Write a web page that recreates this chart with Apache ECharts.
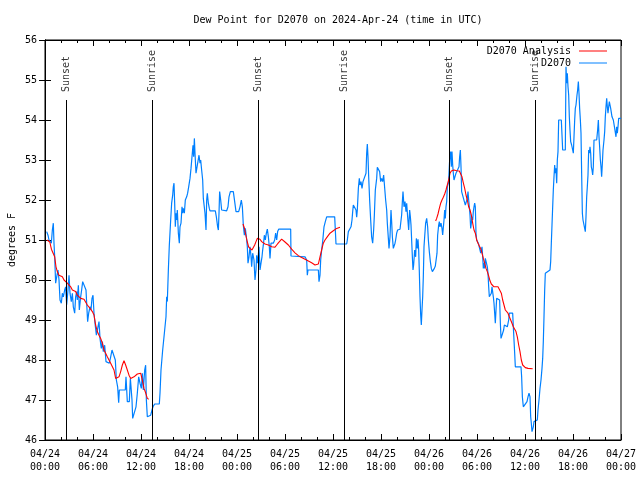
<!DOCTYPE html>
<html>
<head>
<meta charset="utf-8">
<script src="https://cdn.jsdelivr.net/npm/echarts@6/dist/echarts.min.js"></script>
<style>html,body{margin:0;padding:0;background:#fff}#c{width:640px;height:480px}</style>
</head>
<body>
<div id="c"></div>
<script>
// x values are hours since 2024-04-24 00:00 UTC
const titleText = 'Dew Point for D2070 on 2024-Apr-24 (time in UTC)';
const yAxisName = 'degrees F';
const seriesNames = ['D2070 Analysis', 'D2070'];
const startDay = 24;

const obsPoints = [
[0.21,51.21],[0.375,51.12],[0.5,51.0],[0.625,51.04],[0.79,50.92],[0.92,51.25],[1.04,51.42],[1.125,50.92],[1.21,50.58],[1.33,49.92],[1.46,50.08],[1.625,50.25],[1.75,50.0],[1.875,49.5],[2.04,49.42],[2.17,49.67],[2.29,49.58],[2.46,49.75],[2.58,49.83],[2.71,49.38],[2.875,49.75],[3.0,50.12],[3.125,49.67],[3.29,49.46],[3.42,49.67],[3.54,49.33],[3.71,49.17],[3.83,49.58],[3.96,49.71],[4.04,49.5],[4.17,49.87],[4.29,49.25],[4.46,49.58],[4.58,49.75],[4.71,49.96],[4.96,49.96],[5.125,49.75],[5.21,49.42],[5.33,48.96],[5.46,49.17],[5.625,49.33],[5.75,49.25],[5.875,49.54],[6.0,49.62],[6.125,49.17],[6.25,48.92],[6.42,48.62],[6.67,48.62],[6.75,48.96],[6.875,48.54],[7.04,48.29],[7.17,48.46],[7.29,48.21],[7.46,48.37],[7.625,47.96],[7.79,47.92],[8.04,47.92],[8.21,48.08],[8.375,48.25],[8.625,48.25],[8.79,48.0],[8.92,47.5],[9.08,47.33],[9.21,46.93],[9.29,47.25],[10.04,47.25],[10.125,47.58],[10.29,46.96],[10.54,46.96],[10.67,47.54],[10.79,47.54],[10.875,47.0],[10.96,46.54],[11.21,46.54],[11.375,46.83],[11.54,47.17],[11.71,47.58],[11.875,47.42],[12.04,47.29],[12.17,47.67],[12.29,47.25],[12.46,47.75],[12.58,47.87],[12.67,47.0],[12.79,46.58],[12.96,46.54],[13.21,46.62],[13.375,46.75],[13.5,46.83],[13.71,46.9],
[14.29,46.9],[14.375,47.17],[14.5,47.75],[14.71,48.25],[14.96,48.75],[15.125,49.08],[15.21,49.58],[15.29,49.46],[15.42,50.25],[15.54,50.87],[15.71,51.5],[15.83,51.92],[15.96,52.12],[16.04,52.33],[16.125,52.42],[16.21,51.92],[16.29,51.33],[16.375,51.67],[16.46,51.5],[16.54,51.75],[16.67,51.17],[16.79,50.92],[16.875,51.33],[17.0,51.42],[17.125,51.83],[17.21,51.67],[17.29,51.79],[17.42,51.67],[17.54,52.0],[17.71,52.08],[17.83,52.17],[17.96,52.33],[18.125,52.54],[18.25,52.79],[18.375,53.08],[18.5,53.37],[18.58,53.08],[18.67,53.54],[18.75,53.17],[18.875,52.67],[19.125,52.67],[19.25,53.12],[19.375,52.92],[19.46,53.0],[19.58,52.75],[19.71,52.5],[19.79,52.04],[20.0,51.67],[20.125,51.25],[20.21,52.0],[20.29,52.17],[20.42,51.92],[20.54,51.79],[20.625,51.73],[21.29,51.73],[21.42,51.58],[21.58,51.33],[21.67,51.25],[21.75,51.67],[21.83,52.21],[21.96,52.0],[22.08,51.75],[22.71,51.73],[22.875,51.83],[23.0,52.08],[23.17,52.21],[23.54,52.21],[23.71,51.96],[23.875,51.71],[24.04,51.67],[24.21,51.71],[24.375,51.83],[24.54,52.0],[24.67,51.83],[24.79,51.37],[24.92,51.12],[25.04,51.29],[25.17,51.08],[25.29,50.83],[25.375,50.42],[25.5,50.58],
[25.625,50.83],[25.75,50.6],[25.83,50.33],[25.96,50.67],[26.125,50.5],[26.25,50.0],[26.375,50.25],[26.46,50.62],[26.58,50.42],[26.75,50.83],[26.875,50.25],[27.0,50.42],[27.125,50.58],[27.21,50.75],[27.29,50.87],[27.42,51.12],[27.54,51.0],[27.67,51.17],[27.79,51.27],[27.92,51.08],[28.04,50.83],[28.125,50.54],[28.25,50.92],[28.54,50.92],[28.71,51.0],[28.83,51.17],[28.96,51.0],[29.08,51.21],[29.21,51.27],[30.71,51.27],[30.75,50.6],[32.5,50.58],[32.71,50.5],[32.79,50.12],[32.875,50.25],[34.17,50.25],[34.25,49.96],[34.375,50.12],[34.46,50.5],[34.58,50.75],[34.71,50.96],[34.875,51.33],[35.04,51.46],[35.21,51.58],[36.21,51.58],[36.29,51.25],[36.375,50.9],[37.71,50.9],
[37.79,51.0],[37.92,51.21],[38.125,51.25],[38.25,51.33],[38.375,51.5],[38.46,51.71],[38.54,51.875],[38.75,51.875],[38.875,51.75],[38.96,51.57],[39.04,51.75],[39.17,52.29],[39.29,52.54],[39.375,52.375],[39.5,52.46],[39.625,52.29],[39.75,52.46],[39.875,52.5],[40.0,52.43],[40.125,52.67],[40.21,53.17],[40.29,53.4],[40.375,53.08],[40.46,52.58],[40.58,52.0],[40.71,51.5],[40.83,51.08],[40.96,50.92],[41.08,51.25],[41.17,51.625],[41.29,52.25],[41.46,52.54],[41.54,52.82],[41.71,52.82],[41.83,52.71],[41.96,52.46],[42.08,52.54],[42.21,52.46],[42.33,52.625],[42.46,52.58],[42.58,52.0],[42.71,51.75],[42.79,51.42],[42.92,51.04],[43.0,50.79],[43.125,51.08],[43.25,51.75],[43.33,51.46],[43.42,51.08],[43.54,50.79],[43.75,50.92],[43.83,51.0],[43.96,51.17],[44.08,51.25],[44.375,51.27],[44.5,51.25],[44.58,51.625],[44.67,51.96],[44.75,52.21],[44.875,51.83],[45.0,51.96],[45.125,51.71],[45.21,51.92],[45.33,51.58],[45.46,51.25],[45.58,51.75],[45.67,51.58],[45.75,51.375],[45.83,51.33],[45.92,50.58],[46.0,50.25],[46.08,50.375],[46.21,50.75],[46.33,50.58],[46.42,51.04],[46.54,50.79],[46.625,51.02],[46.71,50.75],[46.79,50.21],[46.875,49.58],[46.96,49.125],[47.04,48.875],[47.125,49.25],[47.21,49.58],[47.29,50.08],[47.375,50.83],[47.46,51.08],[47.58,51.42],[47.71,51.54],[47.83,51.33],[47.92,51.0],[48.04,50.71],[48.17,50.46],[48.29,50.29],[48.42,50.21],[48.54,50.18],[48.67,50.29],[48.79,50.35],[48.92,50.375],[49.0,50.67],[49.08,51.12],[49.21,51.375],[49.29,51.46],[49.375,51.33],
[49.5,51.42],[49.625,51.29],[49.71,51.125],[49.79,51.08],[49.875,51.5],[49.96,51.75],[50.04,51.54],[50.125,51.83],[50.21,51.96],[50.29,52.33],[50.42,52.42],[50.5,52.67],[50.58,53.0],[50.71,53.21],[50.79,52.83],[50.875,53.21],[50.96,52.875],[51.04,52.67],[51.125,52.5],[51.29,52.5],[51.375,52.67],[51.46,52.71],[51.625,52.71],[51.75,52.83],[51.83,53.08],[51.92,53.25],[52.0,52.83],[52.08,52.21],[52.33,52.17],[52.42,51.96],[52.54,51.875],[52.71,51.92],[52.79,52.04],[52.875,52.21],[52.96,52.0],[53.04,51.83],[53.125,51.625],[53.21,51.29],[53.29,51.42],[53.375,51.58],[53.46,51.5],[53.54,51.71],[53.625,51.83],[53.71,51.92],[53.79,51.83],[53.875,51.17],[53.96,51.0],[54.17,50.92],[54.375,50.75],[54.46,50.67],[54.625,50.83],[54.71,50.58],[54.79,50.29],[54.875,50.42],[54.96,50.29],[55.04,50.54],[55.21,50.54],[55.29,50.33],[55.375,50.17],[55.46,49.83],[55.54,49.58],[55.67,49.58],[55.79,49.67],[55.875,49.83],[55.96,49.83],[56.04,49.58],[56.125,49.42],[56.21,49.17],[56.29,48.92],[56.375,49.25],[56.46,49.54],[56.83,49.5],[56.92,48.92],[57.0,48.54],[57.25,48.54],[57.33,48.75],[57.42,48.875],[57.79,48.83],[57.96,49.0],[58.04,49.17],[58.46,49.17],[58.54,48.83],[58.625,48.5],[58.71,48.17],[58.79,47.83],[59.5,47.83],[59.58,47.58],[59.67,47.08],[59.79,46.83],[60.25,46.96],[60.375,47.08],[60.5,47.17],[60.625,47.08],[60.71,46.58],[60.79,46.42],[60.875,46.21],[60.96,46.17],[61.04,46.33],[61.125,46.46],[61.21,46.5],[61.54,46.5],[61.625,46.75],
[61.75,47.0],[61.875,47.29],[62.0,47.5],[62.125,47.79],[62.21,48.04],[62.29,48.46],[62.375,49.08],[62.46,49.75],[62.54,50.17],[63.125,50.25],[63.21,50.46],[63.29,50.92],[63.375,51.375],[63.46,51.83],[63.54,52.25],[63.625,52.58],[63.71,52.875],[63.79,52.67],[63.875,52.79],[63.96,52.42],[64.04,53.0],[64.125,53.21],[64.21,54.0],[64.54,54.0],[64.625,53.625],[64.71,53.25],[65.04,53.25],[65.125,55.33],[65.21,54.92],[65.29,55.17],[65.375,54.83],[65.46,54.625],[65.54,54.08],[65.625,53.75],[65.71,53.46],[65.83,53.375],[65.96,53.25],[66.04,53.17],[66.125,53.58],[66.21,54.0],[66.29,54.29],[66.375,54.375],[66.5,54.625],[66.58,54.75],[66.67,54.96],[66.75,54.67],[66.83,54.29],[66.92,54.0],[67.0,53.67],[67.08,52.67],[67.17,51.67],[67.25,51.5],[67.375,51.54],[67.46,51.46],[67.54,51.21],[67.625,51.58],[67.71,52.08],[67.79,52.33],[67.875,52.625],[67.96,53.25],[68.04,53.17],[68.125,53.33],[68.21,53.17],[68.29,52.83],[68.375,52.75],[68.46,52.625],[68.54,52.83],[68.625,53.5],[68.96,53.5],[69.08,53.75],[69.17,54.0],[69.25,53.58],[69.33,53.33],[69.42,53.0],[69.5,52.83],[69.58,52.58],[69.67,52.92],[69.75,53.25],[69.875,53.5],[69.96,53.71],[70.04,54.08],[70.125,54.33],[70.21,54.54],[70.29,54.33],[70.375,54.17],[70.46,54.33],[70.54,54.46],[70.625,54.5],[70.71,54.29],[70.875,54.08],[71.04,54.0],[71.21,53.79],[71.375,53.58],[71.46,53.83],[71.54,53.67],[71.625,53.83],[71.71,54.04],[72.0,54.04]
];

const analysisA = [
[0.25,51.0],[0.6,50.95],[0.8,50.77],[1.04,50.73],[1.21,50.58],[1.375,50.33],[1.54,50.21],[1.75,50.12],[1.96,50.12],[2.17,50.08],[2.375,50.0],[2.58,49.96],[2.79,49.92],[3.0,49.875],[3.21,49.83],[3.42,49.75],[3.625,49.71],[3.83,49.71],[4.04,49.62],[4.25,49.58],[4.46,49.54],[4.67,49.54],[4.875,49.52],[5.08,49.5],[5.29,49.375],[5.5,49.33],[5.71,49.27],[5.92,49.21],[6.125,49.125],[6.33,48.875],[6.54,48.71],[6.75,48.62],[6.96,48.54],[7.17,48.42],[7.375,48.25],[7.58,48.17],[7.79,48.08],[8.0,48.0],[8.21,47.92],[8.42,47.875],[8.625,47.75],[8.83,47.54],[9.04,47.5],[9.25,47.58],[9.46,47.71],[9.67,47.875],[9.875,47.98],[10.08,47.875],[10.29,47.75],[10.5,47.62],[10.71,47.54],[10.92,47.54],[11.125,47.58],[11.33,47.6],[11.54,47.65],[11.75,47.67],[11.96,47.67],[12.08,47.63],[12.25,47.42],[12.375,47.29],[12.58,47.18],[12.79,47.04],[12.96,47.02]
];
const analysisB = [
[24.75,51.4],[24.92,51.3],[25.125,51.1],[25.29,50.95],[25.46,50.82],[25.625,50.78],[25.875,50.75],[26.04,50.79],[26.21,50.875],[26.375,50.96],[26.54,51.04],[26.71,51.07],[26.875,51.02],[27.08,50.96],[27.29,50.92],[27.5,50.9],[27.71,50.875],[27.92,50.875],[28.125,50.85],[28.33,50.83],[28.54,50.83],[28.75,50.82],[28.96,50.875],[29.17,50.93],[29.375,50.98],[29.58,51.02],[29.79,51.0],[30.0,50.95],[30.21,50.92],[30.42,50.875],[30.625,50.83],[30.83,50.77],[31.04,50.72],[31.25,50.68],[31.46,50.65],[31.67,50.61],[31.875,50.58],[32.08,50.56],[32.29,50.54],[32.5,50.52],[32.71,50.5],[32.92,50.475],[33.125,50.46],[33.33,50.43],[33.54,50.4],[33.75,50.375],[33.96,50.35],[34.17,50.4],[34.375,50.58],[34.58,50.75],[34.79,50.92],[35.0,51.0],[35.21,51.06],[35.42,51.11],[35.625,51.17],[35.83,51.21],[36.04,51.23],[36.25,51.27],[36.46,51.29],[36.67,51.32],[36.875,51.32]
];
const analysisC = [
[48.83,51.475],[48.96,51.54],[49.125,51.65],[49.29,51.79],[49.46,51.92],[49.625,52.0],[49.79,52.07],[49.96,52.15],[50.125,52.25],[50.29,52.375],[50.46,52.5],[50.625,52.67],[50.79,52.725],[50.96,52.75],[51.125,52.75],[51.46,52.73],[51.79,52.725],[52.0,52.71],[52.125,52.58],[52.29,52.43],[52.46,52.29],[52.625,52.125],[52.79,52.0],[52.96,51.83],[53.125,51.75],[53.29,51.625],[53.46,51.42],[53.625,51.25],[53.79,51.17],[53.96,51.0],[54.125,50.92],[54.29,50.85],[54.46,50.79],[54.625,50.67],[54.79,50.54],[54.96,50.42],[55.125,50.29],[55.29,50.21],[55.46,50.1],[55.625,49.98],[55.79,49.9],[55.96,49.85],[56.125,49.83],[56.375,49.83],[56.625,49.83],[56.875,49.82],[57.04,49.67],[57.21,49.5],[57.375,49.375],[57.54,49.25],[57.71,49.21],[57.875,49.17],[58.04,49.08],[58.21,49.0],[58.375,48.92],[58.54,48.83],[58.71,48.79],[58.875,48.71],[59.04,48.58],[59.21,48.375],[59.375,48.21],[59.54,48.0],[59.71,47.875],[59.875,47.83],[60.04,47.81],[60.21,47.8],[60.375,47.79],[60.625,47.79],[60.96,47.78]
];

const sunTimes = [2.63, 13.42, 26.67, 37.42, 50.54, 61.29];
const sunLabels = ['Sunset', 'Sunrise', 'Sunset', 'Sunrise', 'Sunset', 'Sunrise'];
const sunLineTop = 54.5;
const sunLabelBase = 54.7;

const FONT = 'DejaVu Sans Mono';
const pad = n => (n < 10 ? '0' : '') + n;

const analysisData = analysisA.concat([['-', '-']], analysisB, [['-', '-']], analysisC);

const chart = echarts.init(document.getElementById('c'), null, {renderer: 'canvas'});
const axisCommon = {
  type: 'value', min: 0, max: 72, interval: 6,
  axisLine: {show: true, lineStyle: {color: '#000', width: 1}},
  axisTick: {show: true, inside: true, length: 6, lineStyle: {color: '#000'}},
  minorTick: {show: true, splitNumber: 3, length: 3, lineStyle: {color: '#000'}},
  splitLine: {show: false}
};
const yCommon = {
  type: 'value', min: 46, max: 56, interval: 1,
  axisLine: {show: true, lineStyle: {color: '#000', width: 1}},
  axisTick: {show: true, inside: true, length: 6, lineStyle: {color: '#000'}},
  splitLine: {show: false}
};
const legendText = {fontFamily: FONT, fontSize: 10, color: '#000', padding: [0, 3, 0, 0]};
chart.setOption({
  animation: false,
  backgroundColor: '#fff',
  title: {
    text: titleText, left: 333, top: 10, textAlign: 'center',
    textStyle: {fontFamily: FONT, fontSize: 10, fontWeight: 'normal', color: '#000'}
  },
  legend: [
    {data: [{name: seriesNames[0], icon: 'rect'}], right: 28, top: 41, align: 'right', itemWidth: 28, itemHeight: 1, itemGap: 0,
     textStyle: legendText},
    {data: [{name: seriesNames[1], icon: 'rect'}], right: 28, top: 53, align: 'right', itemWidth: 28, itemHeight: 1, itemGap: 0,
     textStyle: legendText}
  ],
  grid: {left: 45, right: 19, top: 40, bottom: 40, show: true, borderColor: '#000', borderWidth: 1, outerBoundsMode: 'none', containLabel: false},
  xAxis: [
    Object.assign({}, axisCommon, {
      position: 'bottom',
      axisLabel: {
        fontFamily: FONT, fontSize: 10, color: '#000', margin: 8, lineHeight: 13,
        formatter: v => {
          const d = startDay + Math.floor(v / 24);
          const h = v % 24;
          return '04/' + pad(d) + '\n' + pad(h) + ':00';
        }
      }
    }),
    Object.assign({}, axisCommon, {position: 'top', axisLabel: {show: false}})
  ],
  yAxis: [
    Object.assign({}, yCommon, {
      position: 'left',
      name: yAxisName, nameLocation: 'middle', nameGap: 28, nameRotate: 90, nameMoveOverlap: false,
      nameTextStyle: {fontFamily: FONT, fontSize: 10, color: '#000'},
      axisLabel: {fontFamily: FONT, fontSize: 10, color: '#000', margin: 8}
    }),
    Object.assign({}, yCommon, {position: 'right', axisLabel: {show: false}})
  ],
  series: [
    {
      name: seriesNames[0], type: 'line', data: analysisData, showSymbol: false, symbol: 'none',
      connectNulls: false, lineStyle: {color: '#ff0000', width: 1.1}, itemStyle: {color: '#ff0000'}, z: 3
    },
    {
      name: seriesNames[1], type: 'line', data: obsPoints, showSymbol: false, symbol: 'none',
      lineStyle: {color: '#0080ff', width: 1.2}, itemStyle: {color: '#0080ff'}, z: 2,
      markLine: {
        silent: true, symbol: 'none', animation: false,
        lineStyle: {color: '#000', width: 1, type: 'solid'},
        label: {show: false},
        data: sunTimes.map(t => [{coord: [t, 46]}, {coord: [t, sunLineTop]}])
      }
    },
    {
      name: 'sun', type: 'scatter', symbolSize: 0, silent: true, z: 4,
      data: sunTimes.map((t, i) => [t, sunLabelBase, sunLabels[i]]),
      label: {
        show: true, position: [0, 0], rotate: 90, align: 'left', verticalAlign: 'middle',
        formatter: p => p.data[2],
        fontFamily: FONT, fontSize: 10, color: '#000'
      }
    }
  ]
});
</script>
</body>
</html>
